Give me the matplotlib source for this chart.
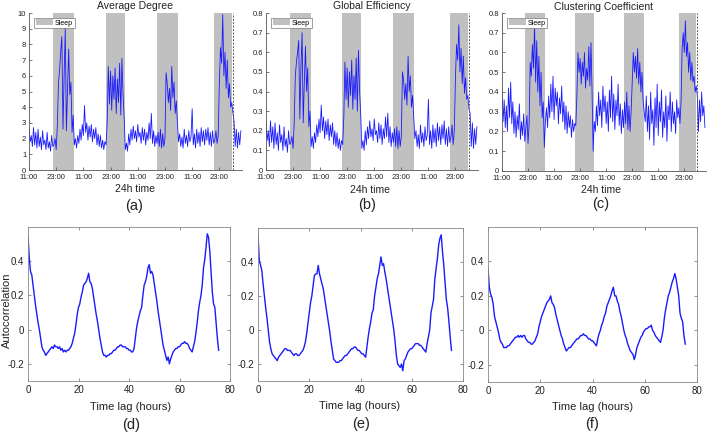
import numpy as np
import matplotlib
matplotlib.use('Agg')
import matplotlib.pyplot as plt
from matplotlib.patches import Patch

plt.rcParams['font.family'] = ['Liberation Sans', 'DejaVu Sans']

# ---------------- data: top row (sampled every 0.5 h from 11:00) ----------------
avg_degree = [
    2.6, 1.8, 2.2, 1.5, 2.7, 1.6, 2.4, 1.4, 2.6, 1.5, 2.1, 1.3, 2.5, 1.6, 1.9, 1.3, 2.4, 1.4, 1.8, 1.2, 2.2, 1.5,
    1.6, 2.0, 1.3, 2.8, 5.5, 6.4, 7.6, 8.5, 2.6, 6.0, 9.0, 2.5, 5.2, 7.7, 4.8, 5.6, 2.4, 3.5, 1.6,
    2.0, 1.4, 2.2, 1.7, 2.6, 1.9, 2.9, 2.2, 4.1, 2.4, 3.0, 1.9, 2.8, 2.1, 2.9, 1.8, 2.6, 2.0, 2.7, 1.6, 2.3, 1.5, 2.2, 1.4, 1.9, 1.3, 1.8,
    1.6, 3.0, 6.6, 4.2, 6.3, 3.8, 6.0, 4.5, 6.5, 3.6, 5.8, 4.3, 6.8, 3.5, 7.1, 4.8, 3.3,
    1.3, 1.7, 1.2, 2.3, 1.6, 2.6, 1.9, 2.8, 2.0, 2.5, 1.8, 2.9, 2.1, 2.4, 1.7, 2.7, 1.9, 2.6, 1.6, 2.4, 1.9, 3.0, 2.0, 3.6, 1.7, 2.5, 1.5, 2.2,
    1.7, 2.4, 1.5, 2.6, 1.4, 2.3, 1.5, 2.0, 6.2, 5.5, 4.3, 5.2, 3.8, 6.6, 4.6, 5.6, 3.6, 4.4, 3.0,
    1.8, 2.3, 1.5, 2.1, 1.4, 2.6, 1.7, 2.2, 1.5, 2.5, 1.8, 2.1, 3.9, 1.6, 2.3, 1.4, 2.6, 1.7, 2.4, 1.5, 2.7, 1.8, 2.5, 1.6, 2.6, 1.9, 2.7, 1.6, 2.4, 1.5, 2.5, 1.7,
    1.9, 2.5, 1.7, 2.2, 5.5, 7.8, 6.8, 9.9, 6.0, 7.5, 5.2, 7.0, 4.6, 5.5, 4.0, 4.3, 3.6, 3.1, 1.5, 2.6, 1.4, 2.4, 1.6, 2.5,
]
global_eff = [
    0.24, 0.15, 0.20, 0.12, 0.25, 0.14, 0.22, 0.11, 0.24, 0.13, 0.19, 0.10, 0.23, 0.14, 0.18, 0.10, 0.22, 0.12, 0.16, 0.09, 0.20, 0.13,
    0.14, 0.17, 0.11, 0.24, 0.48, 0.55, 0.60, 0.66, 0.26, 0.52, 0.70, 0.24, 0.45, 0.63, 0.40, 0.52, 0.22, 0.30, 0.12,
    0.17, 0.11, 0.19, 0.14, 0.23, 0.17, 0.26, 0.19, 0.33, 0.20, 0.27, 0.16, 0.25, 0.18, 0.26, 0.15, 0.23, 0.17, 0.24, 0.13, 0.20, 0.12, 0.19, 0.11, 0.16, 0.10, 0.15,
    0.13, 0.27, 0.55, 0.36, 0.52, 0.32, 0.50, 0.38, 0.56, 0.31, 0.48, 0.36, 0.57, 0.30, 0.61, 0.40, 0.28,
    0.11, 0.15, 0.10, 0.20, 0.13, 0.22, 0.16, 0.25, 0.17, 0.21, 0.15, 0.26, 0.18, 0.20, 0.14, 0.24, 0.16, 0.23, 0.13, 0.21, 0.16, 0.27, 0.17, 0.29, 0.14, 0.22, 0.12, 0.19,
    0.14, 0.21, 0.12, 0.22, 0.11, 0.20, 0.12, 0.17, 0.50, 0.46, 0.36, 0.44, 0.33, 0.58, 0.40, 0.48, 0.32, 0.38, 0.27,
    0.16, 0.20, 0.12, 0.18, 0.11, 0.23, 0.14, 0.19, 0.12, 0.22, 0.15, 0.18, 0.36, 0.13, 0.20, 0.11, 0.23, 0.14, 0.21, 0.12, 0.24, 0.15, 0.22, 0.13, 0.23, 0.16, 0.25, 0.13, 0.21, 0.12, 0.22, 0.14,
    0.17, 0.23, 0.13, 0.20, 0.47, 0.64, 0.56, 0.74, 0.50, 0.62, 0.44, 0.58, 0.39, 0.47, 0.36, 0.38, 0.31, 0.29, 0.12, 0.24, 0.11, 0.21, 0.13, 0.22,
]
clustering = [
    0.40, 0.25, 0.36, 0.22, 0.33, 0.20, 0.42, 0.27, 0.45, 0.24, 0.35, 0.19, 0.30, 0.17, 0.28, 0.21, 0.34, 0.16, 0.25, 0.18, 0.29, 0.15,
    0.22, 0.28, 0.14, 0.24, 0.55, 0.48, 0.64, 0.52, 0.74, 0.45, 0.66, 0.40, 0.58, 0.33, 0.50, 0.27, 0.35, 0.12, 0.25,
    0.32, 0.22, 0.38, 0.27, 0.44, 0.30, 0.48, 0.26, 0.42, 0.33, 0.40, 0.24, 0.37, 0.29, 0.43, 0.25, 0.35, 0.21, 0.33, 0.19, 0.30, 0.22, 0.28, 0.17, 0.26, 0.20, 0.24,
    0.23, 0.38, 0.60, 0.50, 0.57, 0.44, 0.55, 0.48, 0.60, 0.42, 0.52, 0.46, 0.63, 0.43, 0.65, 0.40, 0.10,
    0.25, 0.20, 0.33, 0.23, 0.40, 0.28, 0.36, 0.22, 0.43, 0.30, 0.38, 0.24, 0.35, 0.20, 0.41, 0.27, 0.48, 0.25, 0.39, 0.21, 0.36, 0.28, 0.44, 0.23, 0.34, 0.19, 0.31, 0.22,
    0.35, 0.24, 0.40, 0.21, 0.33, 0.20, 0.30, 0.45, 0.60, 0.50, 0.58, 0.47, 0.62, 0.44, 0.55, 0.40, 0.50, 0.36, 0.30,
    0.25, 0.38, 0.20, 0.33, 0.16, 0.40, 0.24, 0.31, 0.13, 0.37, 0.22, 0.44, 0.18, 0.35, 0.25, 0.41, 0.17, 0.30, 0.22, 0.38, 0.15, 0.33, 0.26, 0.40, 0.20, 0.35, 0.24, 0.30, 0.19, 0.36, 0.27, 0.32,
    0.24, 0.35, 0.62, 0.70, 0.60, 0.76, 0.58, 0.65, 0.50, 0.60, 0.46, 0.55, 0.45, 0.48, 0.40, 0.43, 0.38, 0.20, 0.36, 0.25, 0.40, 0.28, 0.33, 0.22,
]
sample_step_h = 0.5
sleep_start = [10.6, 33.8, 56.3, 81.5]
sleep_end = [19.9, 42.2, 65.6, 89.4]
recording_end = 89.9
time_ticks = [0, 12, 24, 36, 48, 60, 72, 84]
time_labels = ['11:00', '23:00', '11:00', '23:00', '11:00', '23:00', '11:00', '23:00']
top_titles = ['Average Degree', 'Global Efficiency', 'Clustering Coefficient']
top_ymax = [10, 0.8, 0.8]
top_yticks = [list(range(0, 11)), [0, 0.1, 0.2, 0.3, 0.4, 0.5, 0.6, 0.7, 0.8], [0, 0.1, 0.2, 0.3, 0.4, 0.5, 0.6, 0.7, 0.8]]
top_ylabels = [[str(v) for v in range(0, 11)],
               ['0', '0.1', '0.2', '0.3', '0.4', '0.5', '0.6', '0.7', '0.8'],
               ['0', '0.1', '0.2', '0.3', '0.4', '0.5', '0.6', '0.7', '0.8']]

# ---------------- data: bottom row (autocorrelation, lag step 0.5 h) ----------------
acf_degree = [
    0.55, 0.42, 0.34, 0.32, 0.26, 0.20, 0.14, 0.09, 0.04, 0.00,
    -0.05, -0.10, -0.12, -0.13, -0.15, -0.14, -0.13, -0.12, -0.11, -0.10,
    -0.11, -0.09, -0.10, -0.10, -0.11, -0.10, -0.12, -0.11, -0.13, -0.12,
    -0.13, -0.12, -0.12, -0.11, -0.10, -0.08, -0.05, -0.02, 0.03, 0.09,
    0.13, 0.15, 0.19, 0.22, 0.26, 0.27, 0.28, 0.30, 0.33, 0.28,
    0.27, 0.24, 0.19, 0.14, 0.09, 0.05, 0.00, -0.05, -0.09, -0.13,
    -0.15, -0.15, -0.16, -0.15, -0.15, -0.14, -0.14, -0.13, -0.12, -0.12,
    -0.11, -0.10, -0.10, -0.09, -0.09, -0.10, -0.10, -0.10, -0.11, -0.11,
    -0.12, -0.12, -0.13, -0.13, -0.11, -0.05, 0.01, 0.05, 0.08, 0.11,
    0.13, 0.20, 0.26, 0.28, 0.31, 0.36, 0.38, 0.33, 0.34, 0.32,
    0.27, 0.22, 0.17, 0.11, 0.06, 0.01, -0.04, -0.09, -0.12, -0.15,
    -0.18, -0.16, -0.20, -0.17, -0.15, -0.13, -0.12, -0.11, -0.11, -0.10,
    -0.10, -0.09, -0.08, -0.08, -0.07, -0.08, -0.08, -0.09, -0.11, -0.12,
    -0.13, -0.10, -0.07, -0.02, 0.04, 0.11, 0.16, 0.20, 0.26, 0.36,
    0.41, 0.48, 0.56, 0.54, 0.46, 0.34, 0.22, 0.15, 0.13, 0.04,
    -0.05, -0.12,
]
acf_eff = [
    0.56, 0.41, 0.38, 0.35, 0.27, 0.20, 0.13, 0.07, 0.00, -0.07,
    -0.11, -0.14, -0.15, -0.16, -0.17, -0.18, -0.16, -0.15, -0.14, -0.13,
    -0.12, -0.11, -0.11, -0.12, -0.12, -0.12, -0.13, -0.14, -0.15, -0.14,
    -0.14, -0.15, -0.15, -0.14, -0.13, -0.12, -0.10, -0.07, -0.02, 0.04,
    0.10, 0.16, 0.20, 0.26, 0.32, 0.33, 0.33, 0.38, 0.33, 0.30,
    0.27, 0.24, 0.19, 0.14, 0.09, 0.04, -0.01, -0.07, -0.12, -0.17,
    -0.18, -0.19, -0.19, -0.19, -0.18, -0.18, -0.17, -0.16, -0.15, -0.15,
    -0.14, -0.13, -0.12, -0.11, -0.11, -0.10, -0.10, -0.11, -0.12, -0.12,
    -0.13, -0.14, -0.14, -0.15, -0.16, -0.10, -0.04, 0.01, 0.05, 0.10,
    0.12, 0.20, 0.25, 0.30, 0.33, 0.38, 0.43, 0.38, 0.39, 0.34,
    0.30, 0.25, 0.20, 0.15, 0.10, 0.05, 0.00, -0.07, -0.15, -0.20,
    -0.21, -0.22, -0.20, -0.24, -0.18, -0.17, -0.15, -0.13, -0.12, -0.11,
    -0.11, -0.10, -0.09, -0.08, -0.08, -0.08, -0.09, -0.09, -0.10, -0.11,
    -0.12, -0.13, -0.08, -0.04, 0.00, 0.10, 0.14, 0.18, 0.30, 0.36,
    0.42, 0.50, 0.54, 0.56, 0.46, 0.38, 0.28, 0.18, 0.13, 0.05,
    -0.04, -0.12,
]
acf_clust = [
    0.36, 0.25, 0.21, 0.19, 0.15, 0.08, 0.05, 0.02, -0.01, -0.05,
    -0.07, -0.08, -0.10, -0.10, -0.10, -0.09, -0.09, -0.08, -0.07, -0.06,
    -0.05, -0.04, -0.04, -0.03, -0.04, -0.03, -0.04, -0.03, -0.03, -0.05,
    -0.06, -0.07, -0.07, -0.08, -0.08, -0.07, -0.06, -0.04, -0.02, 0.02,
    0.05, 0.08, 0.10, 0.12, 0.14, 0.16, 0.17, 0.18, 0.20, 0.16,
    0.15, 0.13, 0.09, 0.06, 0.03, 0.00, -0.03, -0.05, -0.08, -0.10,
    -0.12, -0.11, -0.10, -0.10, -0.09, -0.08, -0.07, -0.06, -0.05, -0.05,
    -0.04, -0.03, -0.03, -0.02, -0.03, -0.03, -0.04, -0.05, -0.05, -0.06,
    -0.06, -0.07, -0.08, -0.09, -0.05, -0.02, 0.00, 0.03, 0.05, 0.08,
    0.10, 0.14, 0.16, 0.18, 0.20, 0.23, 0.25, 0.20, 0.20, 0.17,
    0.15, 0.11, 0.08, 0.04, 0.00, -0.03, -0.05, -0.08, -0.10, -0.12,
    -0.13, -0.14, -0.17, -0.14, -0.10, -0.08, -0.06, -0.04, -0.03, -0.01,
    0.00, 0.01, 0.01, 0.02, 0.02, 0.03, 0.00, -0.01, -0.03, -0.04,
    -0.05, -0.06, -0.07, -0.04, 0.00, 0.07, 0.12, 0.16, 0.20, 0.22,
    0.25, 0.28, 0.30, 0.33, 0.30, 0.25, 0.20, 0.10, 0.07, 0.05,
    -0.03, -0.08,
]
lag_step_h = 0.5
lag_ticks = [0, 20, 40, 60, 80]
acf_yticks = [-0.2, 0, 0.2, 0.4]
acf_ylabels = ['-0.2', '0', '0.2', '0.4']
panel_letters = ['(a)', '(b)', '(c)', '(d)', '(e)', '(f)']

# ---------------- figure ----------------
W, H = 709, 432
fig = plt.figure(figsize=(W / 100, H / 100), dpi=100)


def box(l, t, r, b):
    return [l / W, 1 - b / H, (r - l) / W, (b - t) / H]


def fx(x):
    return x / W


def fy(y):
    return 1 - y / H


LINE = '#1a1aff'
SLEEP = '#c0c0c0'
TXT = '#222222'

top_boxes = [box(29, 13, 242, 170), box(266, 13, 478, 170), box(502, 13, 706, 171)]
top_series = [avg_degree, global_eff, clustering]
top_title_pos = [(135, 6), (372, 6), (604, 7)]
top_xlabel_pos = [(135, 189), (370, 190), (601, 190)]
top_letter_pos = [(134, 206), (367, 205), (601, 204)]

for k in range(3):
    ax = fig.add_axes(top_boxes[k])
    vals = np.array(top_series[k])
    t = np.arange(len(vals)) * sample_step_h
    for s, e in zip(sleep_start, sleep_end):
        ax.axvspan(s, e, color=SLEEP, lw=0, zorder=0)
    ax.plot(t, vals, color=LINE, lw=0.6, zorder=2)
    ax.axvline(recording_end, color='#555555', lw=0.7, ls=(0, (2, 1.5)), zorder=3)
    ax.set_xlim(0, 94)
    ax.set_ylim(0, top_ymax[k])
    ax.set_xticks(time_ticks)
    ax.set_xticklabels(time_labels)
    ax.set_yticks(top_yticks[k])
    ax.set_yticklabels(top_ylabels[k])
    ax.tick_params(axis='both', direction='in', length=2, width=0.5, labelsize=5.5,
                   colors='#444444', labelcolor=TXT)
    ax.tick_params(axis='x', pad=3)
    ax.tick_params(axis='y', pad=2)
    for sp in ['top', 'right']:
        ax.spines[sp].set_visible(False)
    for sp in ['left', 'bottom']:
        ax.spines[sp].set_color('#555555')
        ax.spines[sp].set_linewidth(0.6)
    leg = ax.legend(handles=[Patch(facecolor=SLEEP, edgecolor='none', label='Sleep')],
                    loc='upper left', bbox_to_anchor=(0.025, 0.97), borderaxespad=0,
                    fontsize=5, frameon=True, fancybox=False, framealpha=1,
                    handlelength=2.4, handleheight=0.9, borderpad=0.25, handletextpad=0.3)
    leg.get_frame().set_edgecolor('#777777')
    leg.get_frame().set_linewidth(0.5)
    fig.text(fx(top_title_pos[k][0]), fy(top_title_pos[k][1]), top_titles[k],
             ha='center', va='center', fontsize=7.5, color=TXT)
    fig.text(fx(top_xlabel_pos[k][0]), fy(top_xlabel_pos[k][1]), '24h time',
             ha='center', va='center', fontsize=7.5, color=TXT)
    fig.text(fx(top_letter_pos[k][0]), fy(top_letter_pos[k][1]), panel_letters[k],
             ha='center', va='center', fontsize=10.5, color=TXT)

bot_boxes = [box(28, 227, 230, 381), box(258, 228, 463, 381), box(488, 227, 697, 382)]
bot_series = [acf_degree, acf_eff, acf_clust]
bot_xlabel_pos = [(131, 407), (360, 406), (593, 407)]
bot_letter_pos = [(131, 425), (361, 424), (592, 424)]

for k in range(3):
    ax = fig.add_axes(bot_boxes[k])
    vals = np.array(bot_series[k])
    lag = np.arange(len(vals)) * lag_step_h
    ax.plot(lag, vals, color=LINE, lw=1.0)
    ax.set_xlim(0, 80)
    ax.set_ylim(-0.3, 0.6)
    ax.set_xticks(lag_ticks)
    ax.set_yticks(acf_yticks)
    ax.set_yticklabels(acf_ylabels)
    ax.tick_params(direction='in', length=2.5, width=0.5, labelsize=7, pad=3,
                   top=True, right=True, colors='#666666', labelcolor=TXT)
    for sp in ax.spines.values():
        sp.set_color('#888888')
        sp.set_linewidth(0.6)
    fig.text(fx(bot_xlabel_pos[k][0]), fy(bot_xlabel_pos[k][1]), 'Time lag (hours)',
             ha='center', va='center', fontsize=8, color=TXT)
    fig.text(fx(bot_letter_pos[k][0]), fy(bot_letter_pos[k][1]), panel_letters[k + 3],
             ha='center', va='center', fontsize=10.5, color=TXT)

fig.text(fx(6.5), fy(310), 'Autocorrelation', rotation=90, ha='center', va='center',
         fontsize=8, color=TXT)

fig.savefig('out.png', dpi=100)
